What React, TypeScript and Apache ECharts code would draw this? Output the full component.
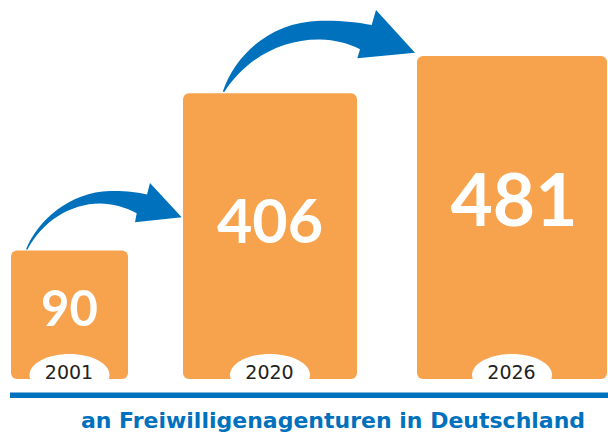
import React, { useEffect, useRef } from "react";
import * as echarts from "echarts";

// ---- data ----
const YEARS: string[] = ["2001", "2020", "2026"];
const VALUES: number[] = [90, 406, 481];
const CAPTION = "an Freiwilligenagenturen in Deutschland";

// ---- layout / style ----
const ORANGE = "#F7A24D";
const BLUE = "#0071BC";
const Y_MIN = -168;
const Y_MAX = 481;
const BAR_X: number[][] = [
  [11, 128],
  [183, 357],
  [417, 607],
];
const LABEL_SIZE = [49, 61, 73];
const LABEL_POS = 0.44;

const ARROW1 =
  "M 26 249.5 C 38 220 70 192 110 191 C 125 190.7 137 192 147 194.5 L 150 183 L 181.7 217.3 L 135 222.3 L 136.7 213.3 C 125 207 112 203.5 100 203.5 C 70 203.5 42 222 27.5 249.5 Z";
const ARROW2 =
  "M 222.7 91.7 C 235 55 270 22 320 20.7 C 340 20.3 358 22 371.7 25 L 376 10 L 415 52.7 L 357.3 58.3 L 360 49.3 C 348 43 335 40 320 39.5 C 280 39 245 60 224.5 91.7 Z";

echarts.graphic.registerShape("arrowA", echarts.graphic.extendPath(ARROW1, {}) as any);
echarts.graphic.registerShape("arrowB", echarts.graphic.extendPath(ARROW2, {}) as any);

export default function App() {
  const ref = useRef<HTMLDivElement>(null);
  useEffect(() => {
    document.body.style.margin = "0";
    if (!ref.current) return;
    const chart = echarts.init(ref.current, undefined, { renderer: "svg" });
    chart.setOption({
      animation: false,
      backgroundColor: "#ffffff",
      grid: { left: 0, right: 0, top: 56, bottom: 56 },
      xAxis: { type: "category", data: YEARS, show: false },
      yAxis: { type: "value", min: Y_MIN, max: Y_MAX, show: false },
      series: [
        {
          type: "custom",
          data: VALUES.map((v, i) => [i, v]),
          encode: { x: 0, y: 1 },
          renderItem: (params: any, api: any) => {
            const i = params.dataIndex;
            const v = api.value(1);
            const top = api.coord([i, v])[1];
            const bottom = api.coord([i, Y_MIN])[1];
            const [x0, x1] = BAR_X[i];
            const cx = (x0 + x1) / 2;
            const h = bottom - top;
            return {
              type: "group",
              children: [
                {
                  type: "rect",
                  shape: { x: x0, y: top, width: x1 - x0, height: h, r: 6 },
                  style: { fill: ORANGE },
                },
                {
                  type: "text",
                  x: cx + (i === 2 ? 2 : 0),
                  y: top + h * LABEL_POS,
                  style: {
                    text: String(v),
                    fill: "#ffffff",
                    font: `bold ${LABEL_SIZE[i]}px Lato`,
                    align: "center",
                    verticalAlign: "middle",
                  },
                },
                {
                  type: "ellipse",
                  shape: { cx: cx, cy: bottom - 4, rx: 40, ry: 21 },
                  style: { fill: "#ffffff" },
                },
                {
                  type: "text",
                  x: cx - 0.5,
                  y: bottom - 7.5,
                  style: {
                    text: YEARS[i],
                    fill: "#222222",
                    font: "19px 'DejaVu Sans'",
                    align: "center",
                    verticalAlign: "middle",
                  },
                },
              ],
            };
          },
        },
      ],
      graphic: [
        { type: "arrowA", x: 0, y: 0, style: { fill: BLUE } },
        { type: "arrowB", x: 0, y: 0, style: { fill: BLUE } },
        {
          type: "rect",
          shape: { x: 10, y: 392.5, width: 598, height: 5.5 },
          style: { fill: BLUE },
          z: 10,
        },
        {
          type: "text",
          x: 333,
          y: 420,
          style: {
            text: CAPTION,
            fill: BLUE,
            font: "bold 22px 'DejaVu Sans'",
            align: "center",
            verticalAlign: "middle",
          },
        },
      ],
    });
    return () => chart.dispose();
  }, []);
  return <div ref={ref} style={{ width: 608, height: 435 }} />;
}
